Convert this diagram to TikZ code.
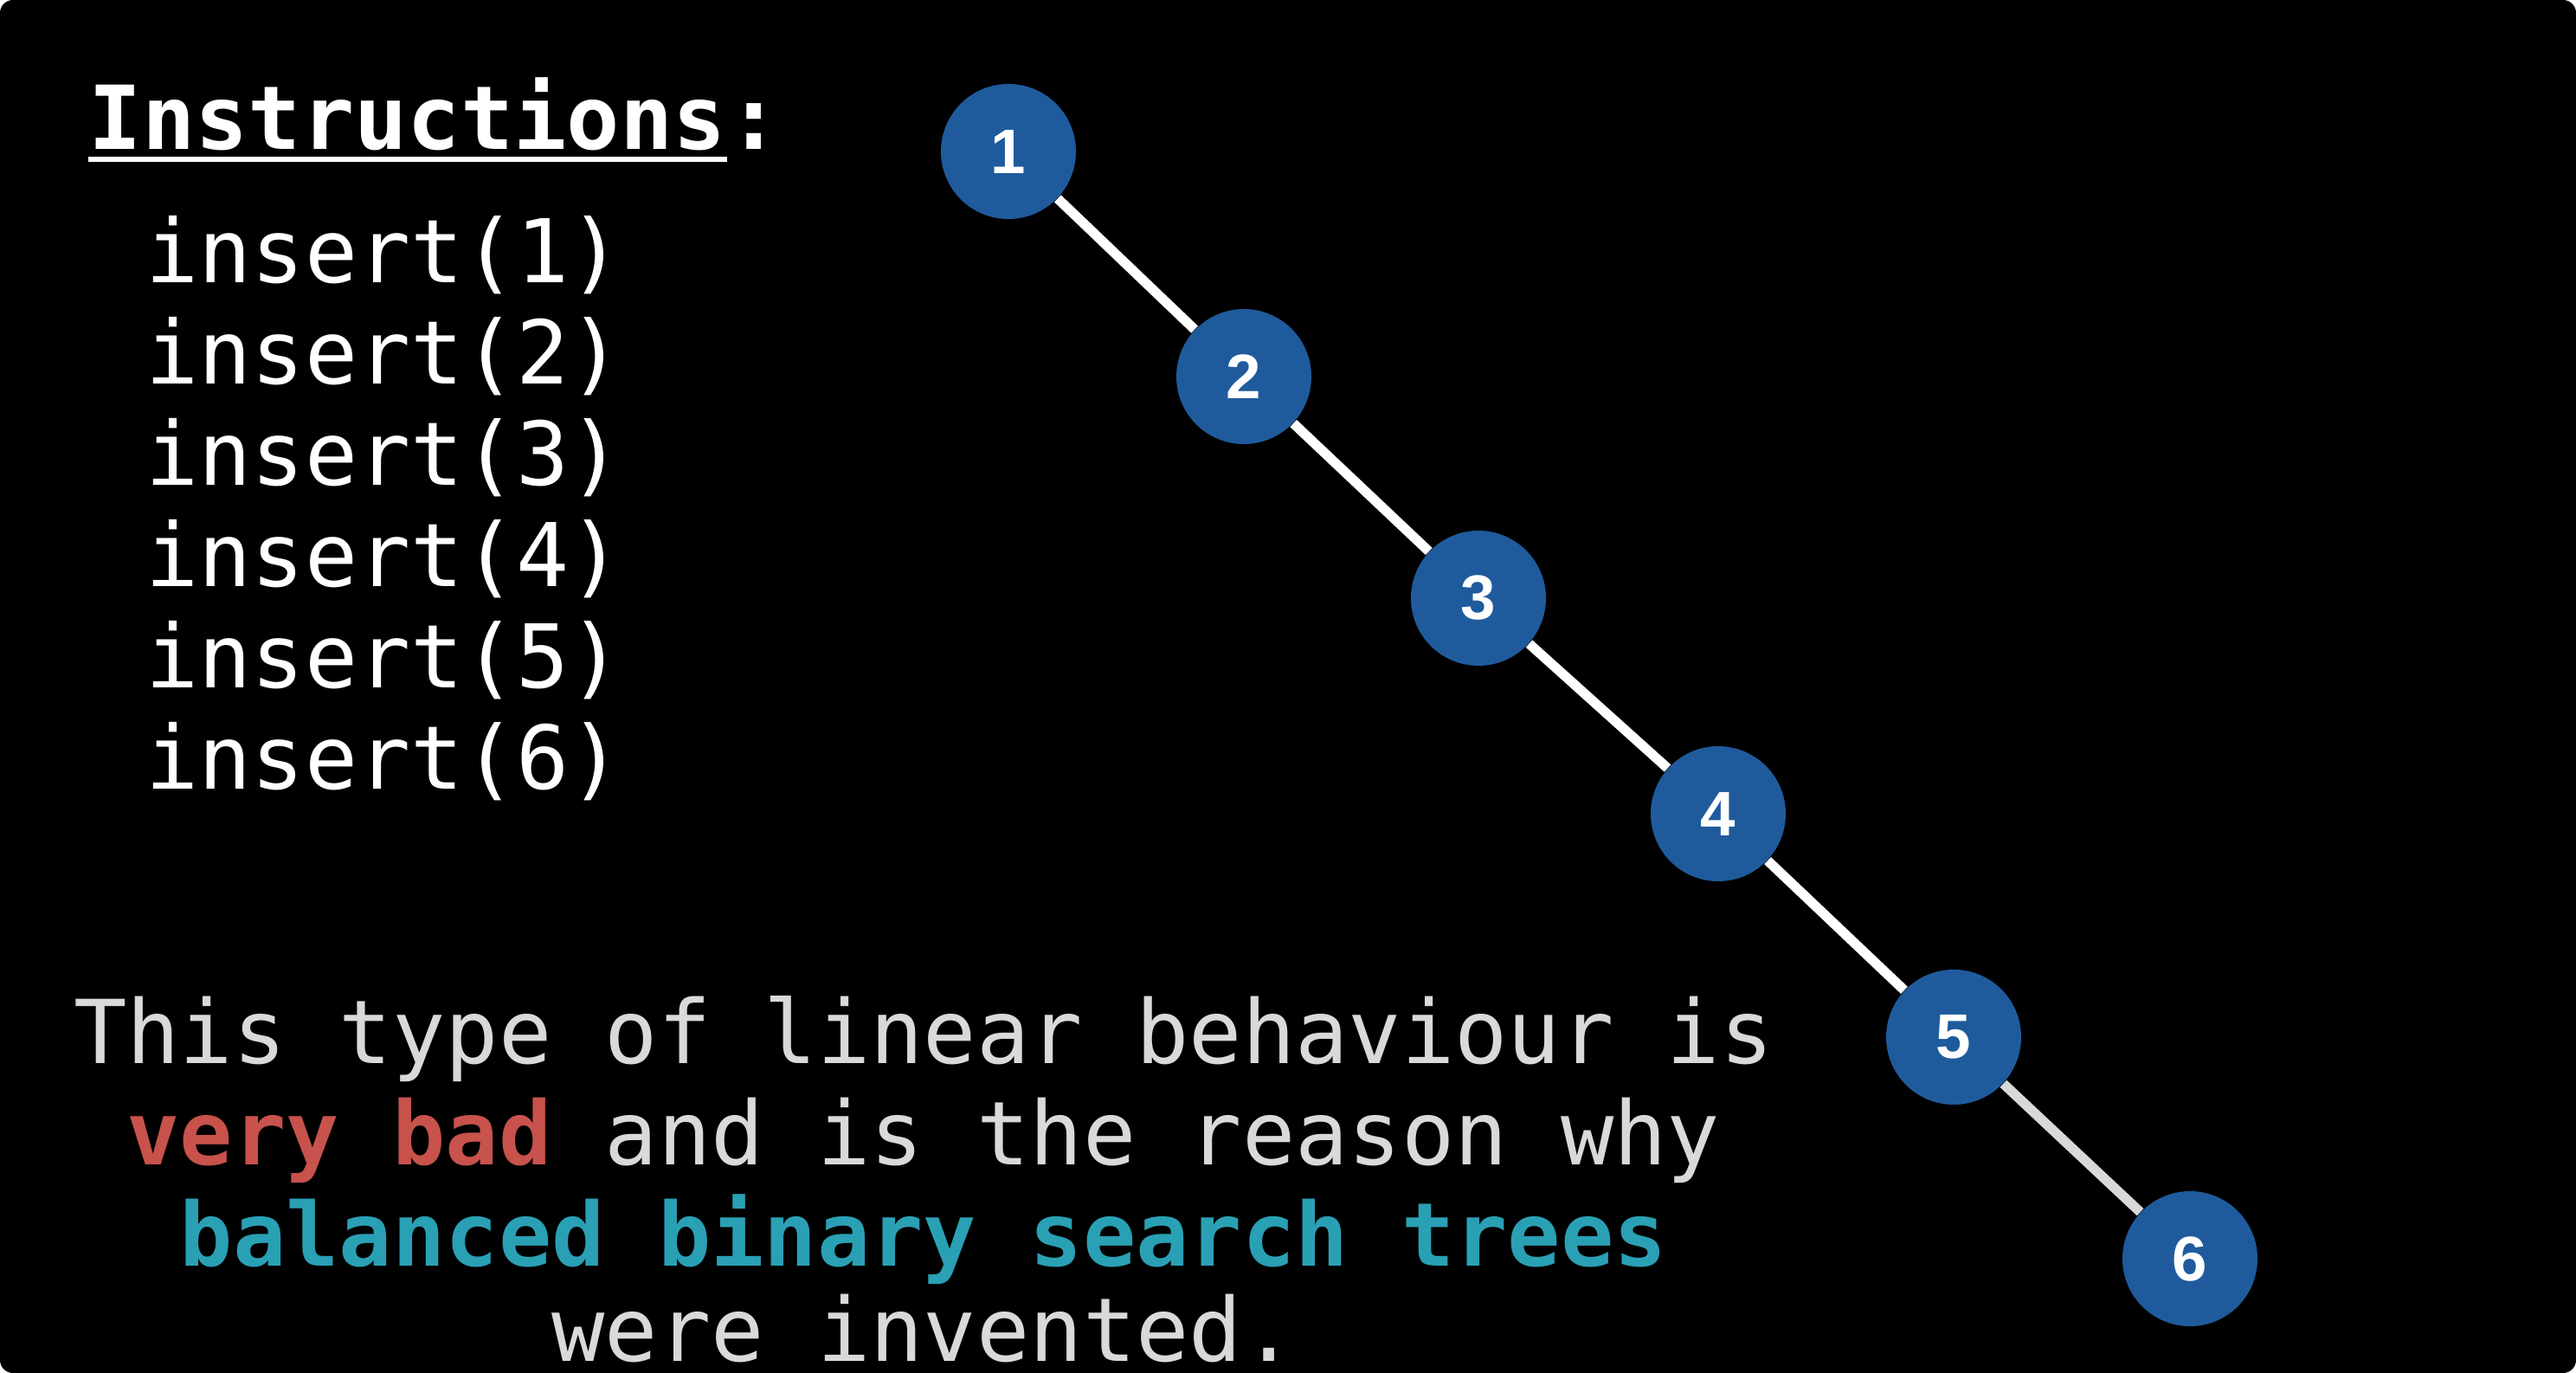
\documentclass[tikz,border=0pt]{standalone}
\usepackage{fontspec}
\setmonofont{DejaVu Sans Mono}
\setsansfont{Liberation Sans}
\usetikzlibrary{positioning}

\definecolor{nodeblue}{RGB}{31,91,156}
\definecolor{notegray}{RGB}{217,217,217}
\definecolor{badred}{RGB}{200,82,76}
\definecolor{bstteal}{RGB}{42,160,181}

\begin{document}
\begin{tikzpicture}[
  every node/.style={inner sep=0pt},
  treenode/.style={circle,fill=nodeblue,minimum size=1.56cm,text=white,font=\sffamily\bfseries\fontsize{20.7pt}{24pt}\selectfont},
  edge/.style={draw=white,line width=3.2pt},
  instr/.style={anchor=base west,text=white,font=\ttfamily\fontsize{28.9pt}{33pt}\selectfont},
  heading/.style={instr,font=\ttfamily\bfseries\fontsize{29pt}{33pt}\selectfont},
  note/.style={anchor=base,text=notegray,font=\ttfamily\fontsize{29pt}{33pt}\selectfont}]

  % Page and dark slide
  \useasboundingbox (0,0) rectangle (29.76,-15.86);
  \fill[white] (0,0) rectangle (29.76,-15.86);
  \fill[black,rounded corners=0.15cm] (0,0) rectangle (29.76,-15.86);

  % Instruction list
  \node[heading] (title) at (1.02,-1.73) {Instructions};
  \node[heading,right=0pt of title.base east,anchor=base west] (colon) {:};
  \draw[white,line width=1.7pt] ([yshift=-0.11cm]title.base west) -- ([yshift=-0.11cm]title.base east);
  \foreach \i in {1,...,6}
    \node[instr] (ins\i) at (1.68,{-3.27-1.17*(\i-1)}) {insert(\i)};

  % Degenerate tree, one node per insert
  \node[treenode] (n1) at (11.65,-1.75) {1};
  \node[treenode] (n2) at (14.37,-4.35) {2};
  \node[treenode] (n3) at (17.08,-6.91) {3};
  \node[treenode] (n4) at (19.85,-9.40) {4};
  \node[treenode] (n5) at (22.57,-11.98) {5};
  \node[treenode] (n6) at (25.30,-14.54) {6};

  \draw[edge] (n1) -- (n2);
  \draw[edge] (n2) -- (n3);
  \draw[edge] (n3) -- (n4);
  \draw[edge] (n4) -- (n5);
  \draw[edge,draw=notegray] (n5) -- (n6);

  % Closing remark
  \node[note] (l1) at (10.67,-12.29) {This type of linear behaviour is};
  \node[note] (l2) at (10.67,-13.46) {\textcolor{badred}{\bfseries very bad} and is the reason why};
  \node[note] (l3) at (10.67,-14.62) {\textcolor{bstteal}{\bfseries balanced binary search trees}};
  \node[note] (l4) at (10.67,-15.72) {were invented.};

\end{tikzpicture}
\end{document}
